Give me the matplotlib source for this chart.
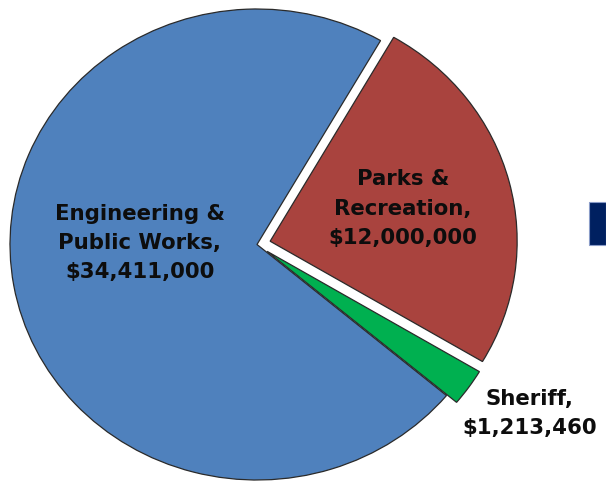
import matplotlib
matplotlib.use("Agg")
import matplotlib.pyplot as plt
from matplotlib.patches import Rectangle

categories = ["Engineering &\nPublic Works,", "Parks &\nRecreation,", "Sheriff,"]
values = [34411000, 12000000, 1213460]
value_labels = ["$34,411,000", "$12,000,000", "$1,213,460"]
colors = ["#4F81BD", "#A9433E", "#00B050"]
explode = [0.0, 0.055, 0.05]

# label positions (data units, pie radius = 1)
label_pos = [(-0.475, 0.006), (0.591, 0.152), (1.103, -0.719)]

fig = plt.figure(figsize=(6.06, 4.82), dpi=100)
ax = fig.add_axes([0, 0, 1, 1])

wedges, _ = ax.pie(values, colors=colors, explode=explode, startangle=-39.9,
                   counterclock=False, radius=1.0, center=(0, 0),
                   wedgeprops=dict(edgecolor="#2a2a2a", linewidth=0.9))
ax.set_aspect("auto")
ax.set_xlim(-257 / 247, 349 / 247)
ax.set_ylim((244.5 - 482) / 235.5, 244.5 / 235.5)
ax.axis("off")

for cat, vl, (x, y) in zip(categories, value_labels, label_pos):
    ax.text(x, y, f"{cat}\n{vl}", ha="center", va="center", fontsize=15.3,
            fontweight="bold", family=["DejaVu Sans"],
            color="#0d0d0d", linespacing=1.58)

fig.patches.append(Rectangle((589 / 606, 1 - 245 / 482), 17 / 606, 43 / 482,
                             transform=fig.transFigure, facecolor="#002060",
                             edgecolor="#8a9cc8", linewidth=0.8))

fig.savefig("out.png", dpi=100)
